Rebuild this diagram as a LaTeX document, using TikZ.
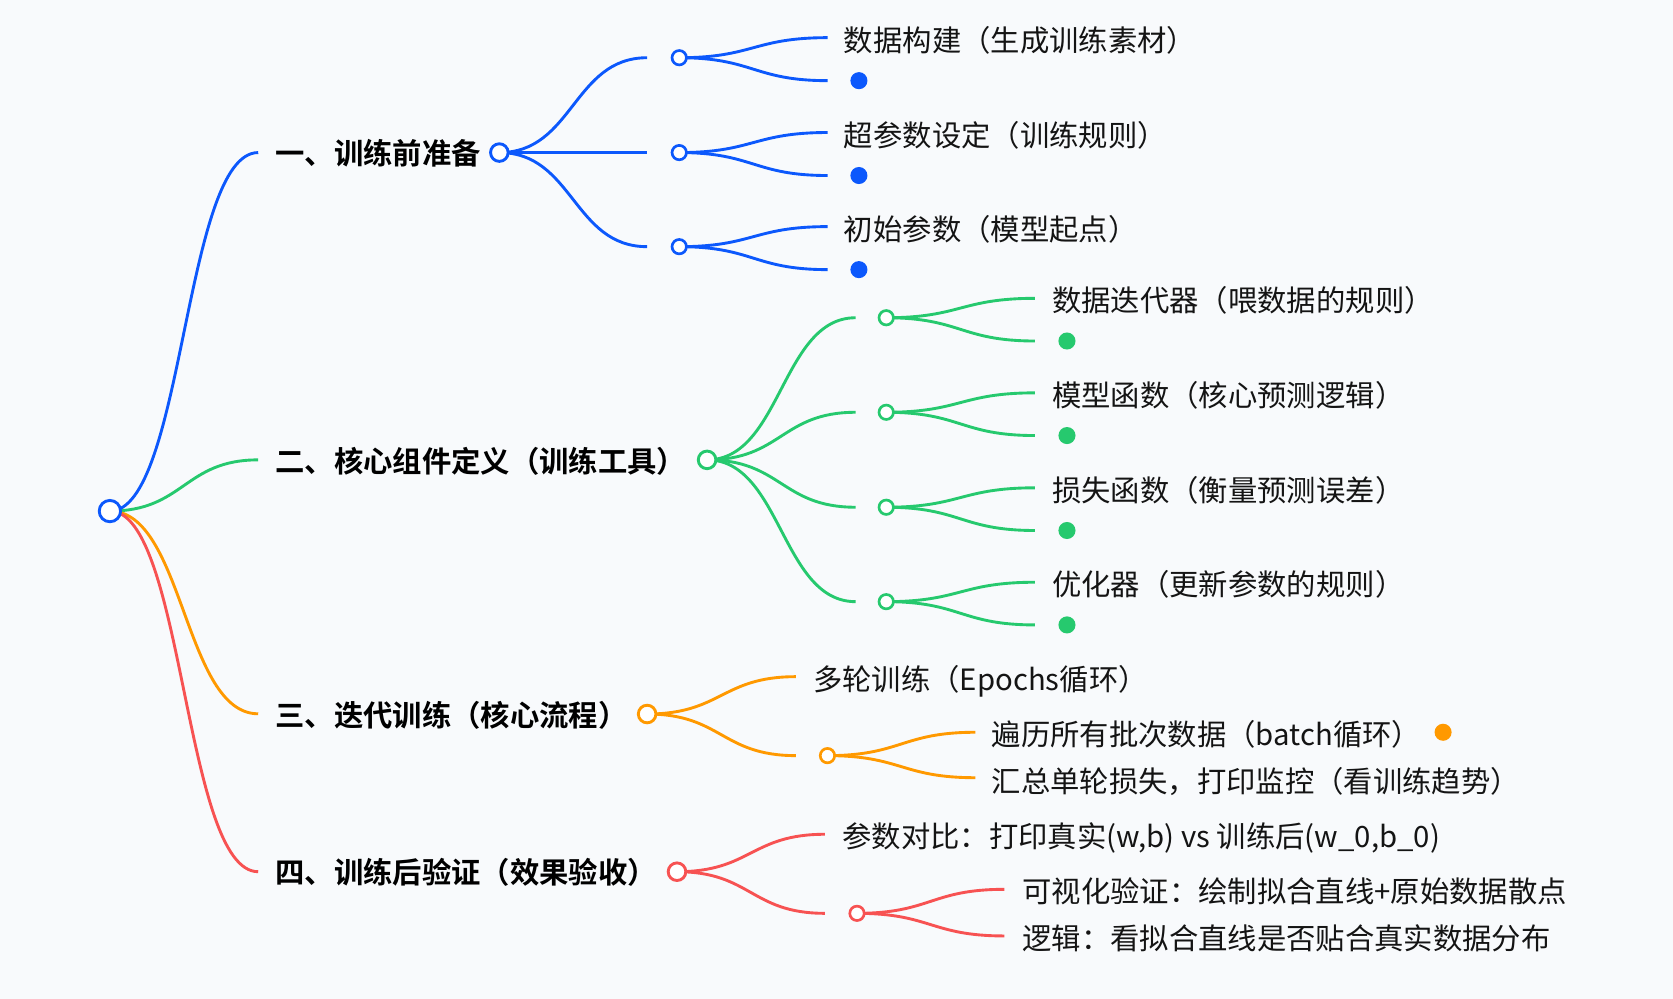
\documentclass[tikz,border=0pt]{standalone}
\usepackage{fontspec}
\setmainfont{Noto Sans CJK SC}[BoldFont={Noto Sans CJK SC Bold}]
\usetikzlibrary{calc}
\pgfdeclarelayer{bg}
\pgfsetlayers{bg,main}
\definecolor{cblue}{RGB}{12,88,252}
\definecolor{cgreen}{RGB}{38,201,110}
\definecolor{corange}{RGB}{255,153,0}
\definecolor{cred}{RGB}{247,82,82}
\definecolor{cbg}{RGB}{248,250,252}
\definecolor{ctext}{RGB}{20,20,20}
\newcommand\mmlink[3]{\draw[conn,#1] let \p1=(#2), \p2=(#3) in (\p1) .. controls ({(\x1+\x2)/2},\y1) and ({(\x1+\x2)/2},\y2) .. (\p2);}
\begin{document}
\begin{tikzpicture}[x=1pt,y=-1pt,
  conn/.style={line width=2.7pt},
  hollow/.style={circle, draw, fill=white, line width=2.7pt, inner sep=0pt},
  rootc/.style={hollow, minimum size=20pt},
  brc/.style={hollow, minimum size=16.5pt},
  subc/.style={hollow, minimum size=13.5pt, line width=2.5pt},
  dotn/.style={circle, inner sep=0pt, minimum size=16pt},
  txt/.style={anchor=base west, inner sep=0pt, font=\fontsize{27.5}{33}\selectfont, text=ctext},
  btxt/.style={anchor=base west, inner sep=0pt, font=\fontsize{27.5}{33}\selectfont\bfseries, text=black}]
\useasboundingbox (0,0) rectangle (1568,936);
\node[rootc, draw=cblue] (root) at (103,479) {};
% ---------- branch 1 (blue)
\coordinate (b1in) at (242,143);
\node[btxt] (b1t) at (258,154.5) {一、训练前准备};
\node[brc, draw=cblue] (b1) at (468,143) {};
\coordinate (b1s1in) at (606.5,54.1);
\coordinate (b1s2in) at (606.5,143);
\coordinate (b1s3in) at (606.5,231.2);
\node[subc, draw=cblue] (b1s1) at (636.6,54.1) {};
\node[subc, draw=cblue] (b1s2) at (636.6,143) {};
\node[subc, draw=cblue] (b1s3) at (636.6,231.2) {};
\coordinate (b1s1a) at (775.7,35.3);  \coordinate (b1s1b) at (775.7,75.6);
\coordinate (b1s2a) at (775.7,124.2); \coordinate (b1s2b) at (775.7,164.5);
\coordinate (b1s3a) at (775.7,212.4); \coordinate (b1s3b) at (775.7,252.7);
\node[txt] (b1s1t) at (790.8,48.5) {数据构建（生成训练素材）};
\node[txt] (b1s2t) at (790.8,137.1) {超参数设定（训练规则）};
\node[txt] (b1s3t) at (790.8,225.7) {初始参数（模型起点）};
\node[dotn, fill=cblue] (b1s1d) at (805,75.6) {};
\node[dotn, fill=cblue] (b1s2d) at (805,164.5) {};
\node[dotn, fill=cblue] (b1s3d) at (805,252.7) {};
% ---------- branch 2 (green)
\coordinate (b2in) at (242,431);
\node[btxt] (b2t) at (258,442.5) {二、核心组件定义（训练工具）};
\node[brc, draw=cgreen] (b2) at (662.7,431) {};
\coordinate (b2s1in) at (801.9,297.8);
\coordinate (b2s2in) at (801.9,386.4);
\coordinate (b2s3in) at (801.9,475.4);
\coordinate (b2s4in) at (801.9,563.9);
\node[subc, draw=cgreen] (b2s1) at (830.6,297.8) {};
\node[subc, draw=cgreen] (b2s2) at (830.6,386.4) {};
\node[subc, draw=cgreen] (b2s3) at (830.6,475.4) {};
\node[subc, draw=cgreen] (b2s4) at (830.6,563.9) {};
\coordinate (b2s1a) at (970,279.6); \coordinate (b2s1b) at (970,319.6);
\coordinate (b2s2a) at (970,368.2); \coordinate (b2s2b) at (970,408.2);
\coordinate (b2s3a) at (970,457.2); \coordinate (b2s3b) at (970,497.2);
\coordinate (b2s4a) at (970,545.7); \coordinate (b2s4b) at (970,585.7);
\node[txt] (b2s1t) at (986,292.2) {数据迭代器（喂数据的规则）};
\node[txt] (b2s2t) at (986,380.8) {模型函数（核心预测逻辑）};
\node[txt] (b2s3t) at (986,469.8) {损失函数（衡量预测误差）};
\node[txt] (b2s4t) at (986,558.3) {优化器（更新参数的规则）};
\node[dotn, fill=cgreen] (b2s1d) at (1000,319.6) {};
\node[dotn, fill=cgreen] (b2s2d) at (1000,408.2) {};
\node[dotn, fill=cgreen] (b2s3d) at (1000,497.2) {};
\node[dotn, fill=cgreen] (b2s4d) at (1000,585.7) {};
% ---------- branch 3 (orange)
\coordinate (b3in) at (242,669);
\node[btxt] (b3t) at (258,680.5) {三、迭代训练（核心流程）};
\node[brc, draw=corange] (b3) at (606.5,669.2) {};
\coordinate (b3a) at (745.9,634.2);
\coordinate (b3bin) at (745.9,708.2);
\node[txt] (b3at) at (762,647.1) {多轮训练（Epochs循环）};
\node[subc, draw=corange] (b3b) at (775.5,708.2) {};
\coordinate (b3b1) at (914.2,686.3);
\coordinate (b3b2) at (914.2,728.9);
\node[txt] (b3b1t) at (929.4,698.6) {遍历所有批次数据（batch循环）};
\node[txt] (b3b2t) at (929.4,743) {汇总单轮损失，打印监控（看训练趋势）};
\node[dotn, fill=corange] (b3b1d) at (1352.5,686.3) {};
% ---------- branch 4 (red)
\coordinate (b4in) at (242,817);
\node[btxt] (b4t) at (258,828.5) {四、训练后验证（效果验收）};
\node[brc, draw=cred] (b4) at (634.5,817) {};
\coordinate (b4a) at (773.1,781.9);
\coordinate (b4bin) at (773.1,856);
\node[txt] (b4at) at (789.3,794.5) {参数对比：打印真实(w,b) vs 训练后(w\_0,b\_0)};
\node[subc, draw=cred] (b4b) at (803.2,856) {};
\coordinate (b4b1) at (941.4,833.5);
\coordinate (b4b2) at (941.4,877.2);
\node[txt] (b4b1t) at (958.1,846.1) {可视化验证：绘制拟合直线+原始数据散点};
\node[txt] (b4b2t) at (958.1,889.8) {逻辑：看拟合直线是否贴合真实数据分布};
% ---------- connectors
\begin{pgfonlayer}{bg}
\fill[cbg] (0,0) rectangle (1568,936);
\mmlink{cblue}{root.center}{b1in}
\mmlink{cgreen}{root.center}{b2in}
\mmlink{corange}{root.center}{b3in}
\mmlink{cred}{root.center}{b4in}
\mmlink{cblue}{b1.center}{b1s1in}
\mmlink{cblue}{b1.center}{b1s2in}
\mmlink{cblue}{b1.center}{b1s3in}
\mmlink{cblue}{b1s1.center}{b1s1a}
\mmlink{cblue}{b1s1.center}{b1s1b}
\mmlink{cblue}{b1s2.center}{b1s2a}
\mmlink{cblue}{b1s2.center}{b1s2b}
\mmlink{cblue}{b1s3.center}{b1s3a}
\mmlink{cblue}{b1s3.center}{b1s3b}
\mmlink{cgreen}{b2.center}{b2s1in}
\mmlink{cgreen}{b2.center}{b2s2in}
\mmlink{cgreen}{b2.center}{b2s3in}
\mmlink{cgreen}{b2.center}{b2s4in}
\mmlink{cgreen}{b2s1.center}{b2s1a}
\mmlink{cgreen}{b2s1.center}{b2s1b}
\mmlink{cgreen}{b2s2.center}{b2s2a}
\mmlink{cgreen}{b2s2.center}{b2s2b}
\mmlink{cgreen}{b2s3.center}{b2s3a}
\mmlink{cgreen}{b2s3.center}{b2s3b}
\mmlink{cgreen}{b2s4.center}{b2s4a}
\mmlink{cgreen}{b2s4.center}{b2s4b}
\mmlink{corange}{b3.center}{b3a}
\mmlink{corange}{b3.center}{b3bin}
\mmlink{corange}{b3b.center}{b3b1}
\mmlink{corange}{b3b.center}{b3b2}
\mmlink{cred}{b4.center}{b4a}
\mmlink{cred}{b4.center}{b4bin}
\mmlink{cred}{b4b.center}{b4b1}
\mmlink{cred}{b4b.center}{b4b2}
\end{pgfonlayer}
\end{tikzpicture}
\end{document}
